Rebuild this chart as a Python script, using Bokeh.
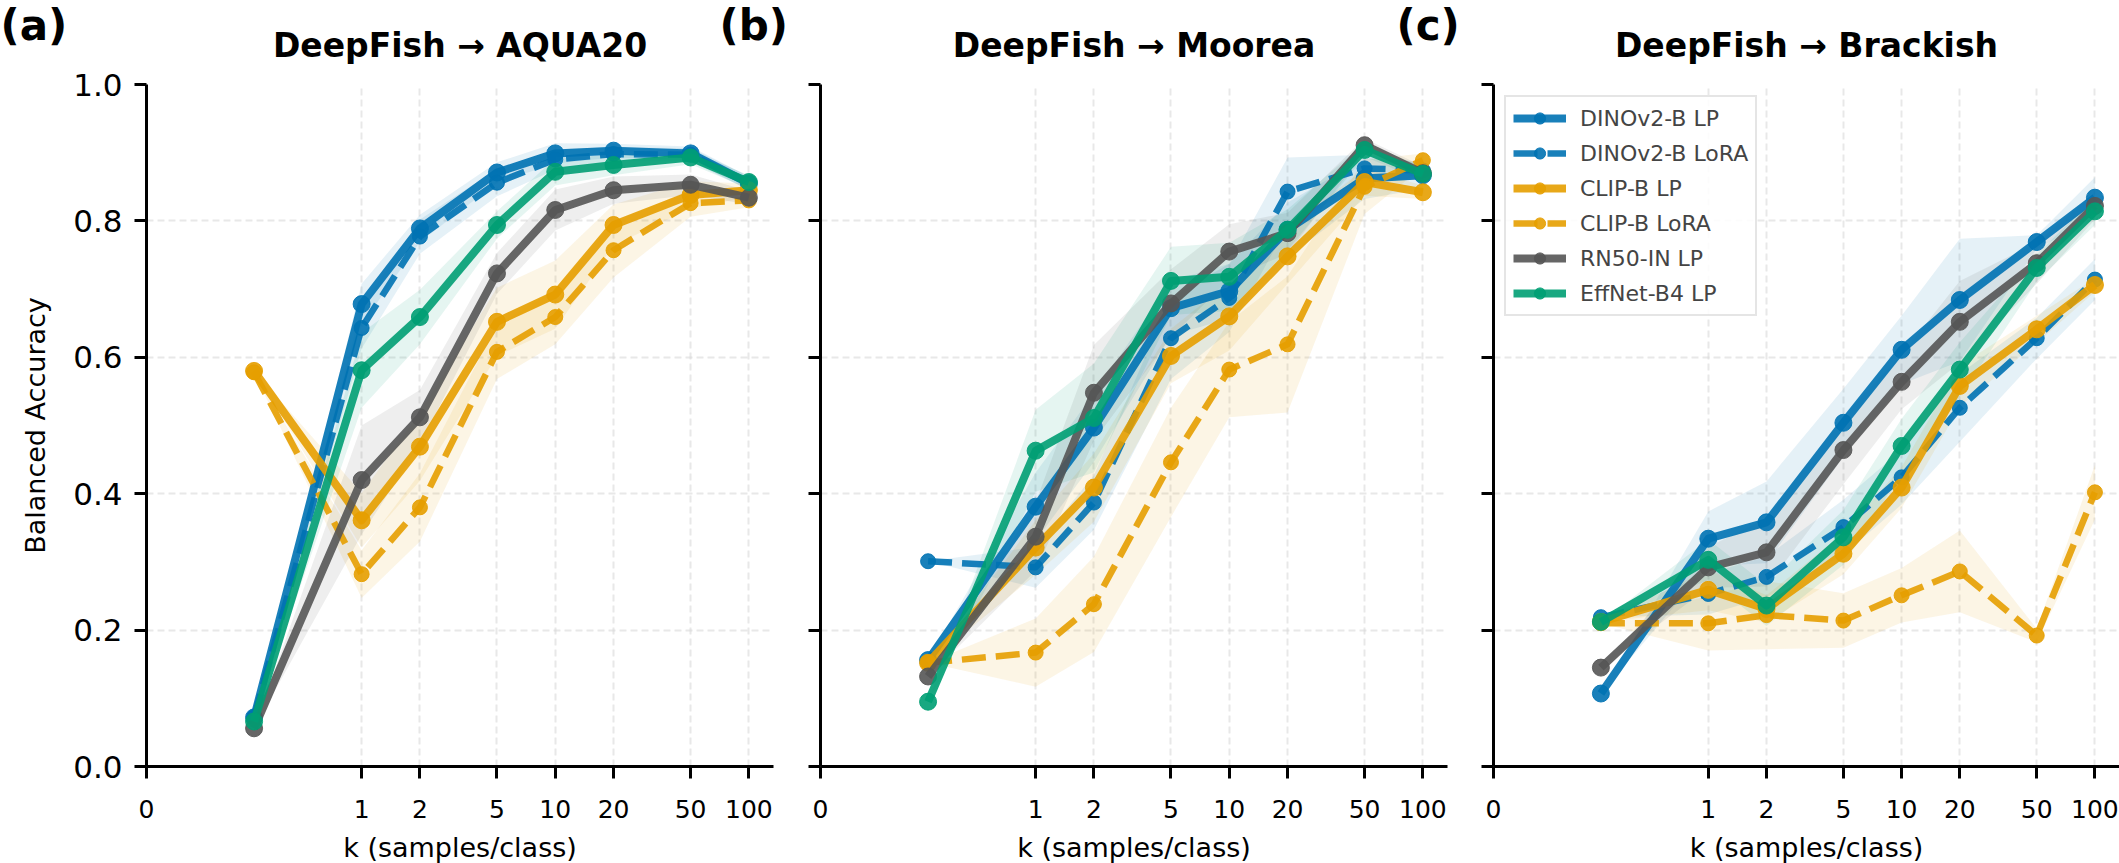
import math
from bokeh.plotting import figure
from bokeh.models import Range1d, FixedTicker, Legend, LegendItem
from bokeh.core.properties import value
from bokeh.layouts import row, column
from bokeh.embed import file_html
from bokeh.resources import INLINE

# ---------------- data ----------------
K_VALUES = [0.5, 1, 2, 5, 10, 20, 50, 100]          # zero-shot point is drawn at k = 0.5
X_TICKS = [0, 1, 2, 5, 10, 20, 50, 100]
X_TICK_LABELS = ["0", "1", "2", "5", "10", "20", "50", "100"]
X_MAX = 134
Y_TICKS = [0.0, 0.2, 0.4, 0.6, 0.8, 1.0]
Y_TICK_LABELS = ["0.0", "0.2", "0.4", "0.6", "0.8", "1.0"]

MODELS = ["DINOv2-B LP", "DINOv2-B LoRA", "CLIP-B LP", "CLIP-B LoRA", "RN50-IN LP", "EffNet-B4 LP"]
PANEL_TITLES = ["DeepFish \u2192 AQUA20", "DeepFish \u2192 Moorea", "DeepFish \u2192 Brackish"]
PANEL_TAGS = ["(a)", "(b)", "(c)"]
X_LABEL = "k (samples/class)"
Y_LABEL = "Balanced Accuracy"

# (a) DeepFish -> AQUA20
DINO_LP_A = [0.072, 0.678, 0.789, 0.871, 0.899, 0.903, 0.899, 0.855]
DINO_LORA_A = [0.072, 0.643, 0.777, 0.856, 0.890, 0.898, 0.897, 0.855]
CLIP_LP_A = [0.580, 0.361, 0.469, 0.652, 0.692, 0.794, 0.838, 0.845]
CLIP_LORA_A = [0.578, 0.282, 0.380, 0.608, 0.659, 0.757, 0.826, 0.830]
RN50_LP_A = [0.056, 0.420, 0.512, 0.723, 0.816, 0.845, 0.853, 0.834]
EFF_LP_A = [0.066, 0.581, 0.659, 0.794, 0.872, 0.882, 0.893, 0.857]

DINO_LP_A_SD = [0.0, 0.030, 0.020, 0.015, 0.015, 0.010, 0.010, 0.010]
DINO_LORA_A_SD = [0.0, 0.030, 0.025, 0.020, 0.015, 0.010, 0.010, 0.010]
CLIP_LP_A_SD = [0.0, 0.040, 0.050, 0.050, 0.050, 0.030, 0.020, 0.010]
CLIP_LORA_A_SD = [0.0, 0.035, 0.050, 0.040, 0.040, 0.040, 0.020, 0.010]
RN50_LP_A_SD = [0.0, 0.080, 0.040, 0.030, 0.030, 0.020, 0.015, 0.010]
EFF_LP_A_SD = [0.0, 0.055, 0.040, 0.020, 0.020, 0.015, 0.010, 0.010]

# (b) DeepFish -> Moorea
DINO_LP_B = [0.156, 0.381, 0.497, 0.672, 0.697, 0.787, 0.862, 0.867]
DINO_LORA_B = [0.301, 0.292, 0.387, 0.628, 0.687, 0.843, 0.877, 0.874]
CLIP_LP_B = [0.152, 0.321, 0.409, 0.602, 0.660, 0.748, 0.857, 0.842]
CLIP_LORA_B = [0.152, 0.167, 0.238, 0.446, 0.582, 0.619, 0.850, 0.889]
RN50_LP_B = [0.132, 0.337, 0.548, 0.679, 0.755, 0.782, 0.911, 0.870]
EFF_LP_B = [0.095, 0.463, 0.511, 0.712, 0.718, 0.787, 0.904, 0.869]

DINO_LP_B_SD = [0.0, 0.050, 0.050, 0.040, 0.040, 0.040, 0.030, 0.020]
DINO_LORA_B_SD = [0.0, 0.030, 0.040, 0.060, 0.050, 0.050, 0.020, 0.010]
CLIP_LP_B_SD = [0.0, 0.040, 0.050, 0.040, 0.050, 0.040, 0.020, 0.010]
CLIP_LORA_B_SD = [0.0, 0.050, 0.070, 0.080, 0.070, 0.100, 0.040, 0.010]
RN50_LP_B_SD = [0.0, 0.050, 0.070, 0.050, 0.040, 0.030, 0.010, 0.010]
EFF_LP_B_SD = [0.0, 0.060, 0.080, 0.050, 0.050, 0.030, 0.010, 0.010]

# (c) DeepFish -> Brackish
DINO_LP_C = [0.107, 0.334, 0.358, 0.504, 0.611, 0.684, 0.769, 0.834]
DINO_LORA_C = [0.219, 0.253, 0.278, 0.351, 0.424, 0.526, 0.628, 0.714]
CLIP_LP_C = [0.212, 0.259, 0.231, 0.312, 0.409, 0.558, 0.641, 0.706]
CLIP_LORA_C = [0.210, 0.210, 0.222, 0.214, 0.251, 0.286, 0.192, 0.402]
RN50_LP_C = [0.145, 0.292, 0.314, 0.464, 0.564, 0.652, 0.738, 0.822]
EFF_LP_C = [0.212, 0.303, 0.236, 0.336, 0.470, 0.582, 0.731, 0.814]

DINO_LP_C_SD = [0.0, 0.040, 0.060, 0.050, 0.050, 0.090, 0.010, 0.030]
DINO_LORA_C_SD = [0.0, 0.030, 0.030, 0.040, 0.040, 0.050, 0.030, 0.030]
CLIP_LP_C_SD = [0.0, 0.030, 0.020, 0.030, 0.030, 0.030, 0.020, 0.010]
CLIP_LORA_C_SD = [0.0, 0.040, 0.050, 0.040, 0.040, 0.060, 0.010, 0.040]
RN50_LP_C_SD = [0.0, 0.030, 0.050, 0.050, 0.040, 0.060, 0.030, 0.020]
EFF_LP_C_SD = [0.0, 0.030, 0.030, 0.040, 0.040, 0.040, 0.020, 0.020]

PANELS = [
    ([DINO_LP_A, DINO_LORA_A, CLIP_LP_A, CLIP_LORA_A, RN50_LP_A, EFF_LP_A],
     [DINO_LP_A_SD, DINO_LORA_A_SD, CLIP_LP_A_SD, CLIP_LORA_A_SD, RN50_LP_A_SD, EFF_LP_A_SD]),
    ([DINO_LP_B, DINO_LORA_B, CLIP_LP_B, CLIP_LORA_B, RN50_LP_B, EFF_LP_B],
     [DINO_LP_B_SD, DINO_LORA_B_SD, CLIP_LP_B_SD, CLIP_LORA_B_SD, RN50_LP_B_SD, EFF_LP_B_SD]),
    ([DINO_LP_C, DINO_LORA_C, CLIP_LP_C, CLIP_LORA_C, RN50_LP_C, EFF_LP_C],
     [DINO_LP_C_SD, DINO_LORA_C_SD, CLIP_LP_C_SD, CLIP_LORA_C_SD, RN50_LP_C_SD, EFF_LP_C_SD]),
]

# ---------------- styles / layout ----------------
COLORS = ["#0072B2", "#0072B2", "#E69F00", "#E69F00", "#555555", "#009E73"]
IS_LORA = [False, True, False, True, False, False]
FONT = "DejaVu Sans"

PAGE_W = 2119
HEADER_H = 68          # strip holding panel tags and titles
LAYOUT = [
    dict(frame_w=627, left=146, right=30),
    dict(frame_w=627, left=17, right=30),
    dict(frame_w=626, left=16, right=0),
]
FRAME_H = 682
TOP = 16
BOTTOM = 97
TAG_X = [0, 719, 1396]
TAG_BASELINE = 25
TITLE_BASELINE = 45


def symlog(k):
    # matplotlib-style symlog (base 10, linthresh 1, linscale 1)
    lin = 1.0 / (1.0 - 0.1)
    return k * lin if k <= 1 else lin + math.log10(k)


def make_panel(i):
    lay = LAYOUT[i]
    p = figure(frame_width=lay["frame_w"], frame_height=FRAME_H,
               min_border_left=lay["left"], min_border_right=lay["right"],
               min_border_top=TOP, min_border_bottom=BOTTOM,
               x_range=Range1d(0, symlog(X_MAX)), y_range=Range1d(0, 1.0),
               output_backend="svg", toolbar_location=None,
               background_fill_color="white", border_fill_color="white")
    p.outline_line_color = None

    # x axis
    xt = [symlog(t) for t in X_TICKS]
    p.xaxis.ticker = FixedTicker(ticks=xt)
    p.xaxis.major_label_overrides = {v: lab for v, lab in zip(xt, X_TICK_LABELS)}
    p.xaxis.axis_label = X_LABEL
    # y axis
    p.yaxis.ticker = FixedTicker(ticks=Y_TICKS)
    if i == 0:
        p.yaxis.major_label_overrides = {v: lab for v, lab in zip(Y_TICKS, Y_TICK_LABELS)}
        p.yaxis.axis_label = Y_LABEL
        p.yaxis.major_label_standoff = 12
        p.yaxis.axis_label_standoff = 19
    else:
        p.yaxis.major_label_overrides = {v: "" for v in Y_TICKS}
        p.yaxis.major_label_standoff = 0

    for ax in (p.xaxis[0], p.yaxis[0]):
        ax.axis_line_width = 3
        ax.axis_line_color = "black"
        ax.major_tick_line_width = 3
        ax.major_tick_line_color = "black"
        ax.major_tick_out = 12
        ax.major_tick_in = 0
        ax.minor_tick_line_color = None
        ax.major_label_text_font = FONT
        ax.major_label_text_color = "black"
        ax.axis_label_text_font = FONT
        ax.axis_label_text_font_size = "27px"
        ax.axis_label_text_font_style = "normal"
        ax.axis_label_text_color = "black"
    p.xaxis.major_label_text_font_size = "25px"
    p.yaxis.major_label_text_font_size = "31px"
    p.xaxis.major_label_standoff = 21
    p.xaxis.axis_label_standoff = 11

    for g in (p.xgrid[0], p.ygrid[0]):
        g.grid_line_color = "#d9d9d9"
        g.grid_line_alpha = 0.6
        g.grid_line_width = 2
        g.grid_line_dash = "7 4"

    means, sds = PANELS[i]
    xs = [symlog(k) for k in K_VALUES]
    items = []
    for m, (mu, sd) in enumerate(zip(means, sds)):
        lo = [a - b for a, b in zip(mu, sd)]
        hi = [a + b for a, b in zip(mu, sd)]
        p.varea(x=xs, y1=lo, y2=hi, fill_color=COLORS[m], fill_alpha=0.1)
    for m, mu in enumerate(means):
        lora = IS_LORA[m]
        lr = p.line(xs, mu, line_color=COLORS[m], line_alpha=0.9,
                    line_width=6.5 if lora else 8,
                    line_dash="24 10" if lora else "solid",
                    line_join="round")
        sr = p.scatter(xs, mu, marker="circle", size=15 if lora else 17,
                       fill_color=COLORS[m], line_color=COLORS[m],
                       fill_alpha=0.9, line_alpha=0.9)
        items.append(LegendItem(label=MODELS[m], renderers=[lr, sr]))

    if i == 2:
        leg = Legend(items=items, location="top_left", margin=11, padding=7,
                     label_text_font=FONT, label_text_font_size="22px",
                     label_standoff=14, glyph_width=53, glyph_height=28,
                     label_height=28, spacing=7,
                     border_line_color="#cccccc", border_line_width=2.5,
                     background_fill_color="white", background_fill_alpha=0.85)
        p.add_layout(leg, "center")
    return p


figs = [make_panel(i) for i in range(3)]

# header strip: panel tags and panel titles (page pixel coordinates, y downwards)
title_x = []
left_edge = 0
for lay in LAYOUT:
    title_x.append(left_edge + lay["left"] + lay["frame_w"] / 2)
    left_edge += lay["left"] + lay["frame_w"] + lay["right"]

header = figure(width=PAGE_W, height=HEADER_H, x_range=Range1d(0, PAGE_W),
                y_range=Range1d(HEADER_H, 0), min_border=0,
                x_axis_type=None, y_axis_type=None,
                output_backend="svg", toolbar_location=None,
                background_fill_color="white", border_fill_color="white")
header.outline_line_color = None
header.text(x=title_x, y=[TITLE_BASELINE] * len(PANEL_TITLES), text=PANEL_TITLES,
            text_font=value(FONT), text_font_size="33px", text_font_style="bold",
            text_color="black", text_align="center", text_baseline="alphabetic")
header.text(x=TAG_X, y=[TAG_BASELINE] * len(PANEL_TAGS), text=PANEL_TAGS,
            text_font=value(FONT), text_font_size="42px", text_font_style="bold",
            text_color="black", text_align="left", text_baseline="alphabetic")

layout = column(header, row(*figs, spacing=0), spacing=0)
open("out.html", "w").write(file_html(layout, INLINE))
